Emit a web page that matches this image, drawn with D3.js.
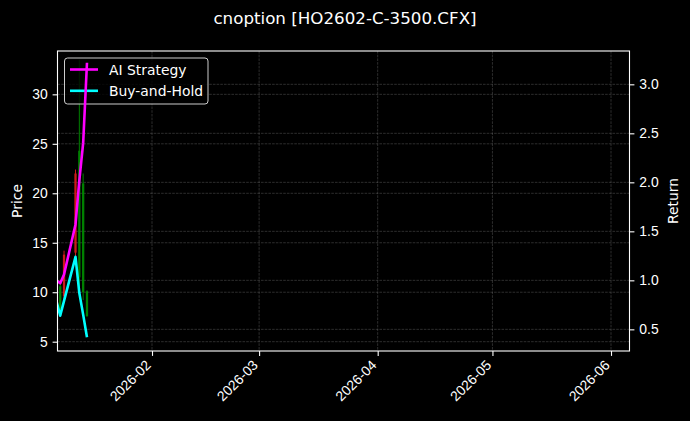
<!DOCTYPE html>
<html>
<head>
<meta charset="utf-8">
<script src="https://cdn.jsdelivr.net/npm/d3@7"></script>
<style>
    html, body { margin: 0; padding: 0; background: #000; }
    svg { display: block; font-family: 'DejaVu Sans', sans-serif; }
    text { fill: #fff; }
</style>
</head>
<body>
<svg></svg>
<script>
let dates = ['2026-01-07', '2026-01-08', '2026-01-09', '2026-01-12', '2026-01-13', '2026-01-14', '2026-01-15']
let openPrice = [10.6, 8.3, 13.8, 22.0, 11.5, 10.0, 7.6]
let highPrice = [11.0, 10.9, 14.2, 22.4, 33.5, 22.0, 10.2]
let lowPrice = [10.2, 7.8, 9.0, 13.2, 9.9, 9.2, 7.5]
let closePrice = [10.8, 10.6, 9.6, 14.0, 24.3, 21.0, 10.1]
let aiReturn = [1.00, 0.97, 1.06, 1.57, 2.02, 2.40, 3.22]
let bhReturn = [0.79, 0.64, 0.79, 1.24, 0.87, 0.65, 0.42]
let priceTicks = [5, 10, 15, 20, 25, 30]
let returnTicks = [0.5, 1.0, 1.5, 2.0, 2.5, 3.0]
let monthTicks = ['2026-02-01', '2026-03-01', '2026-04-01', '2026-05-01', '2026-06-01']
let seriesNames = ['AI Strategy', 'Buy-and-Hold']
let seriesColors = ['#ff00ff', '#00ffff']
let title = 'cnoption [HO2602-C-3500.CFX]'

let width = 690
let height = 421
let margin = {top: 51, right: 60.5, bottom: 70, left: 57.5}
let svg = d3.select('svg')
    .attr('width', width)
    .attr('height', height)

svg.append('rect')
    .attr('width', width)
    .attr('height', height)
    .attr('fill', '#000')

let parse = d3.utcParse('%Y-%m-%d')
let rows = dates.map((d, i) => ({
    date: parse(d),
    open: openPrice[i], high: highPrice[i], low: lowPrice[i], close: closePrice[i],
    ai: aiReturn[i], bh: bhReturn[i]
}))

let x = d3.scaleUtc()
    .domain([new Date(Date.UTC(2026, 0, 7, 7)), new Date(Date.UTC(2026, 5, 5, 20))])
    .range([margin.left, width - margin.right])
let yPrice = d3.scaleLinear()
    .domain([4.06, 34.38])
    .range([height - margin.bottom, margin.top])
let yReturn = d3.scaleLinear()
    .domain([0.279, 3.34])
    .range([height - margin.bottom, margin.top])

svg.append('defs').append('clipPath').attr('id', 'plot')
    .append('rect')
    .attr('x', margin.left).attr('y', margin.top)
    .attr('width', width - margin.left - margin.right)
    .attr('height', height - margin.top - margin.bottom)

// dashed grids for both y axes and the date axis
let grid = svg.append('g')
    .attr('stroke', '#808080')
    .attr('stroke-opacity', 0.5)
    .attr('stroke-width', 0.7)
    .attr('stroke-dasharray', '2.6,1.1')
grid.selectAll('.gx').data(monthTicks).enter()
    .append('line')
    .attr('x1', d => x(parse(d))).attr('x2', d => x(parse(d)))
    .attr('y1', margin.top).attr('y2', height - margin.bottom)
grid.selectAll('.gp').data(priceTicks).enter()
    .append('line')
    .attr('x1', margin.left).attr('x2', width - margin.right)
    .attr('y1', d => yPrice(d)).attr('y2', d => yPrice(d))
grid.selectAll('.gr').data(returnTicks).enter()
    .append('line')
    .attr('x1', margin.left).attr('x2', width - margin.right)
    .attr('y1', d => yReturn(d)).attr('y2', d => yReturn(d))

// candles
let dayWidth = x(parse('2026-01-09')) - x(parse('2026-01-08'))
let candles = svg.append('g').attr('clip-path', 'url(#plot)')
    .selectAll('g').data(rows).enter()
    .append('g')
    .attr('opacity', 0.8)
    .attr('stroke', d => d.close >= d.open ? '#00a000' : '#ff2020')
    .attr('fill', d => d.close >= d.open ? '#00a000' : '#ff2020')
candles.append('line')
    .attr('x1', d => x(d.date)).attr('x2', d => x(d.date))
    .attr('y1', d => yPrice(d.high)).attr('y2', d => yPrice(d.low))
    .attr('stroke-width', 1)
candles.append('rect')
    .attr('x', d => x(d.date) - dayWidth * 0.3)
    .attr('width', dayWidth * 0.6)
    .attr('y', d => yPrice(Math.max(d.open, d.close)))
    .attr('height', d => Math.max(0.5, Math.abs(yPrice(d.open) - yPrice(d.close))))
    .attr('stroke', 'none')

// legend sits over candles, lines are drawn above it
let legend = svg.append('g').attr('transform', `translate(${margin.left + 7},${margin.top + 7})`)
legend.append('rect')
    .attr('width', 143.5).attr('height', 46)
    .attr('rx', 3)
    .attr('fill', '#000').attr('fill-opacity', 0.8)
    .attr('stroke', '#cccccc').attr('stroke-width', 1)
let entry = legend.selectAll('.entry').data(seriesNames).enter()
    .append('g')
    .attr('transform', (d, i) => `translate(0,${11.5 + i * 21.3})`)
entry.append('line')
    .attr('x1', 5.5).attr('x2', 33.5)
    .attr('stroke', (d, i) => seriesColors[i])
    .attr('stroke-width', 2.6)
entry.append('text')
    .attr('x', 44.5).attr('y', 5)
    .attr('font-size', 13.9)
    .text(d => d)

let lines = svg.append('g').attr('clip-path', 'url(#plot)')
;['ai', 'bh'].forEach((key, i) => {
    lines.append('path')
        .datum(rows)
        .attr('fill', 'none')
        .attr('stroke', seriesColors[i])
        .attr('stroke-width', 2.6)
        .attr('stroke-linejoin', 'round')
        .attr('d', d3.line().x(d => x(d.date)).y(d => yReturn(d[key])))
})

// axes
let xAxis = svg.append('g')
    .attr('transform', `translate(0,${height - margin.bottom})`)
    .call(d3.axisBottom(x)
        .tickValues(monthTicks.map(parse))
        .tickFormat(d3.utcFormat('%Y-%m'))
        .tickSize(4.9)
        .tickSizeOuter(0))
xAxis.selectAll('text')
    .attr('font-size', 13.9)
    .attr('text-anchor', 'end')
    .attr('dy', null)
    .attr('y', null)
    .attr('transform', 'translate(-0.8,15) rotate(-45)')
let leftAxis = svg.append('g')
    .attr('transform', `translate(${margin.left},0)`)
    .call(d3.axisLeft(yPrice).tickValues(priceTicks).tickSize(4.9).tickPadding(4.9).tickSizeOuter(0))
leftAxis.selectAll('text').attr('font-size', 13.9)
let rightAxis = svg.append('g')
    .attr('transform', `translate(${width - margin.right},0)`)
    .call(d3.axisRight(yReturn).tickValues(returnTicks).tickFormat(d3.format('.1f'))
        .tickSize(4.9).tickPadding(4.9).tickSizeOuter(0))
rightAxis.selectAll('text').attr('font-size', 13.9)
svg.selectAll('.domain').remove()
svg.selectAll('.tick line').attr('stroke', '#fff').attr('stroke-width', 1.1)

svg.append('rect')
    .attr('x', margin.left).attr('y', margin.top)
    .attr('width', width - margin.left - margin.right)
    .attr('height', height - margin.top - margin.bottom)
    .attr('fill', 'none')
    .attr('stroke', '#fff')
    .attr('stroke-width', 1.1)

svg.append('text')
    .attr('transform', `translate(21.5,${(margin.top + height - margin.bottom) / 2}) rotate(-90)`)
    .attr('text-anchor', 'middle')
    .attr('font-size', 13.9)
    .text('Price')
svg.append('text')
    .attr('transform', `translate(678,${(margin.top + height - margin.bottom) / 2}) rotate(-90)`)
    .attr('text-anchor', 'middle')
    .attr('font-size', 13.9)
    .text('Return')

svg.append('text')
    .attr('x', width / 2)
    .attr('y', 24)
    .attr('text-anchor', 'middle')
    .attr('font-size', 16.7)
    .text(title)
</script>
</body>
</html>
